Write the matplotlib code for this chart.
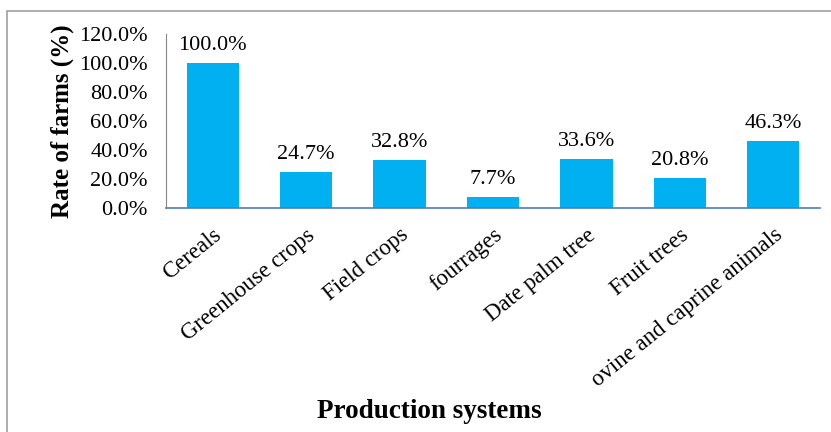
import matplotlib
matplotlib.use("Agg")
import matplotlib.pyplot as plt
from matplotlib.patches import Rectangle
from matplotlib.ticker import FuncFormatter

categories = ["Cereals", "Greenhouse crops", "Field crops", "fourrages",
              "Date palm tree", "Fruit trees", "ovine and caprine animals"]
values = [100.0, 24.7, 32.8, 7.7, 33.6, 20.8, 46.3]
y_ticks = [0, 20, 40, 60, 80, 100, 120]

plt.rcParams['font.family'] = ['Liberation Serif', 'DejaVu Serif']

fig = plt.figure(figsize=(8.31, 4.32), dpi=100)
ax = fig.add_axes([166/831, 1 - 208/432, (820-166)/831, (208-34)/432])

x = range(len(categories))
ax.bar(x, values, width=0.56, color="#00B0F0")
for xi, v in zip(x, values):
    ax.text(xi, v + 9, f"{v:.1f}%", ha="center", va="baseline", fontsize=16)

ax.set_xlim(-0.5, len(categories) - 0.5)
ax.set_ylim(0, 120)
ax.set_yticks(y_ticks)
ax.yaxis.set_major_formatter(FuncFormatter(lambda v, p: f"{v:.1f}%"))
ax.set_xticks(list(x))
ax.set_xticklabels(categories, rotation=39, ha="right", rotation_mode="anchor")
ax.tick_params(axis="both", length=0)
ax.tick_params(axis="y", pad=13, labelsize=16)
ax.tick_params(axis="x", pad=12, labelsize=16.5)

for s in ["top", "right"]:
    ax.spines[s].set_visible(False)
ax.spines["left"].set_color("#868686")
ax.spines["bottom"].set_color("#4A7EBB")
ax.spines["bottom"].set_linewidth(1.2)

ax.set_ylabel("Rate of farms (%)", fontsize=18, fontweight="bold", labelpad=4)
fig.text(429/831, 1 - 411/432, "Production systems",
         ha="center", va="center", fontsize=19.5, fontweight="bold")

# outer chart frame
fig.patches.append(Rectangle((7/831, -0.1), 1.1, 1 - 11/432 + 0.1, transform=fig.transFigure,
                             fill=False, edgecolor="#A0A0A0", linewidth=1.2))

fig.savefig("out.png", dpi=100)
